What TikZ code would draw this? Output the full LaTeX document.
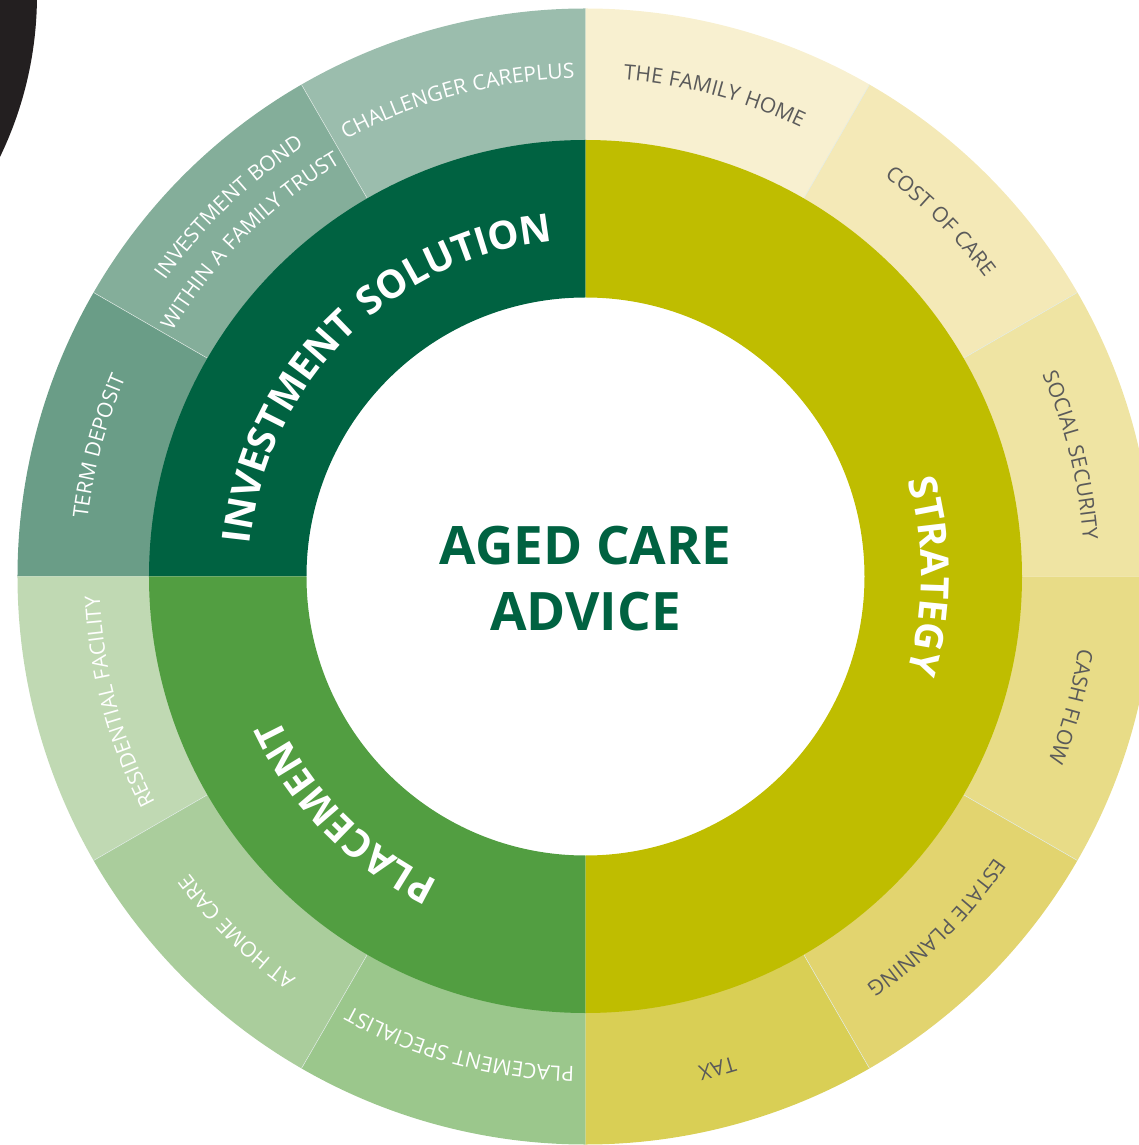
\documentclass[tikz,border=0pt]{standalone}
\usepackage{fontspec}
\setmainfont{Open Sans}
\newfontfamily\ringfont{Open Sans}[LetterSpace=9]
\newfontfamily\outerfont{Open Sans}[LetterSpace=3]
\usetikzlibrary{decorations.text}
\definecolor{blob}{HTML}{231F20}
\definecolor{invdark}{HTML}{006241}
\definecolor{placegreen}{HTML}{529E41}
\definecolor{strategy}{HTML}{BFBD00}
\definecolor{careplus}{HTML}{9BBDAD}
\definecolor{bond}{HTML}{84AE9A}
\definecolor{deposit}{HTML}{6A9D87}
\definecolor{residential}{HTML}{C0D9B3}
\definecolor{homecare}{HTML}{AACD9C}
\definecolor{specialist}{HTML}{9BC78C}
\definecolor{familyhome}{HTML}{F8F0D0}
\definecolor{costcare}{HTML}{F4E9B7}
\definecolor{social}{HTML}{EFE4A3}
\definecolor{cashflow}{HTML}{E8DC87}
\definecolor{estate}{HTML}{E2D46F}
\definecolor{tax}{HTML}{D9CF55}
\definecolor{greytext}{HTML}{5A5A5A}
\def\segment[#1](#2:#3:#4:#5){\fill[#1] (#2:#4) arc (#2:#3:#4) -- (#3:#5) arc (#3:#2:#5) -- cycle;}
\def\arclabel[#1](#2:#3)#4{\path[decorate,decoration={text along path,text align=center,#1,text={#4}}] (#2+85:#3) arc (#2+85:#2-85:#3);}
\def\outerstyle{\outerfont\fontsize{21}{25}\selectfont}
\def\ringstyle{\ringfont\bfseries\fontsize{39}{39}\selectfont}

\begin{document}
\begin{tikzpicture}[x=1pt,y=1pt,
		sep/.style={draw=white!70!careplus,line width=0.5pt},
		title/.style={anchor=base,inner sep=0pt,text=invdark,font=\bfseries\fontsize{53}{53}\selectfont}]
			%%%%% START %%%%%
			\useasboundingbox (-585.5,-568.5) rectangle (552.5,576.5);
			
			\begin{scope}
				\clip (-585.5,-568.5) rectangle (552.5,576.5);
				\fill[blob] (-920.5,581.5) circle (372);
			\end{scope}
			
			% outer ring
			\segment[careplus](90:120:436:568)
			\segment[bond](120:150:436:568)
			\segment[deposit](150:180:436:568)
			\segment[residential](180:210:436:568)
			\segment[homecare](210:240:436:568)
			\segment[specialist](240:270:436:568)
			\segment[tax](270:300:436:568)
			\segment[estate](300:330:436:568)
			\segment[cashflow](330:360:436:568)
			\segment[social](0:30:436:568)
			\segment[costcare](30:60:436:568)
			\segment[familyhome](60:90:436:568)
			\foreach \a in {30,60,120,150,210,240,300,330}
				\draw[sep] (\a:436) -- (\a:568);
			
			% inner ring
			\segment[invdark](90:180:279:436.5)
			\segment[placegreen](180:270:279:436.5)
			\segment[strategy](-90:90:279:436.5)
			
			% outer labels
			\arclabel[text color=white](105:498){|\outerstyle|CHALLENGER CAREPLUS}
			\arclabel[text color=white](134:514){|\outerstyle|INVESTMENT BOND}
			\arclabel[text color=white](135:480){|\outerstyle|WITHIN A FAMILY TRUST}
			\arclabel[text color=white](165:501){|\outerstyle|TERM DEPOSIT}
			\arclabel[text color=white](195:486){|\outerstyle|RESIDENTIAL FACILITY}
			\arclabel[text color=white](225.5:495){|\outerstyle|AT HOME CARE}
			\arclabel[text color=white](255:490){|\outerstyle|PLACEMENT SPECIALIST}
			\arclabel[text color=greytext](75:498){|\outerstyle|THE FAMILY HOME}
			\arclabel[text color=greytext](45:499){|\outerstyle|COST OF CARE}
			\arclabel[text color=greytext](14:499){|\outerstyle|SOCIAL SECURITY}
			\arclabel[text color=greytext](-15:498){|\outerstyle|CASH FLOW}
			\arclabel[text color=greytext](-45:496){|\outerstyle|ESTATE PLANNING}
			\arclabel[text color=greytext](-75:502){|\outerstyle|TAX}
			
			% inner labels
			\arclabel[text color=white](135:337){|\ringstyle|INVESTMENT SOLUTION}
			\arclabel[text color=white](0:336){|\ringstyle|STRATEGY}
			\arclabel[text color=white](224.5:338){|\ringstyle|PLACEMENT}
			
			% centre
			\node[title] (aged) at (0,11.5) {AGED CARE};
			\node[title] (advice) at (0,-54.5) {ADVICE};
			%%%%% END %%%%%
\end{tikzpicture}
\end{document}
